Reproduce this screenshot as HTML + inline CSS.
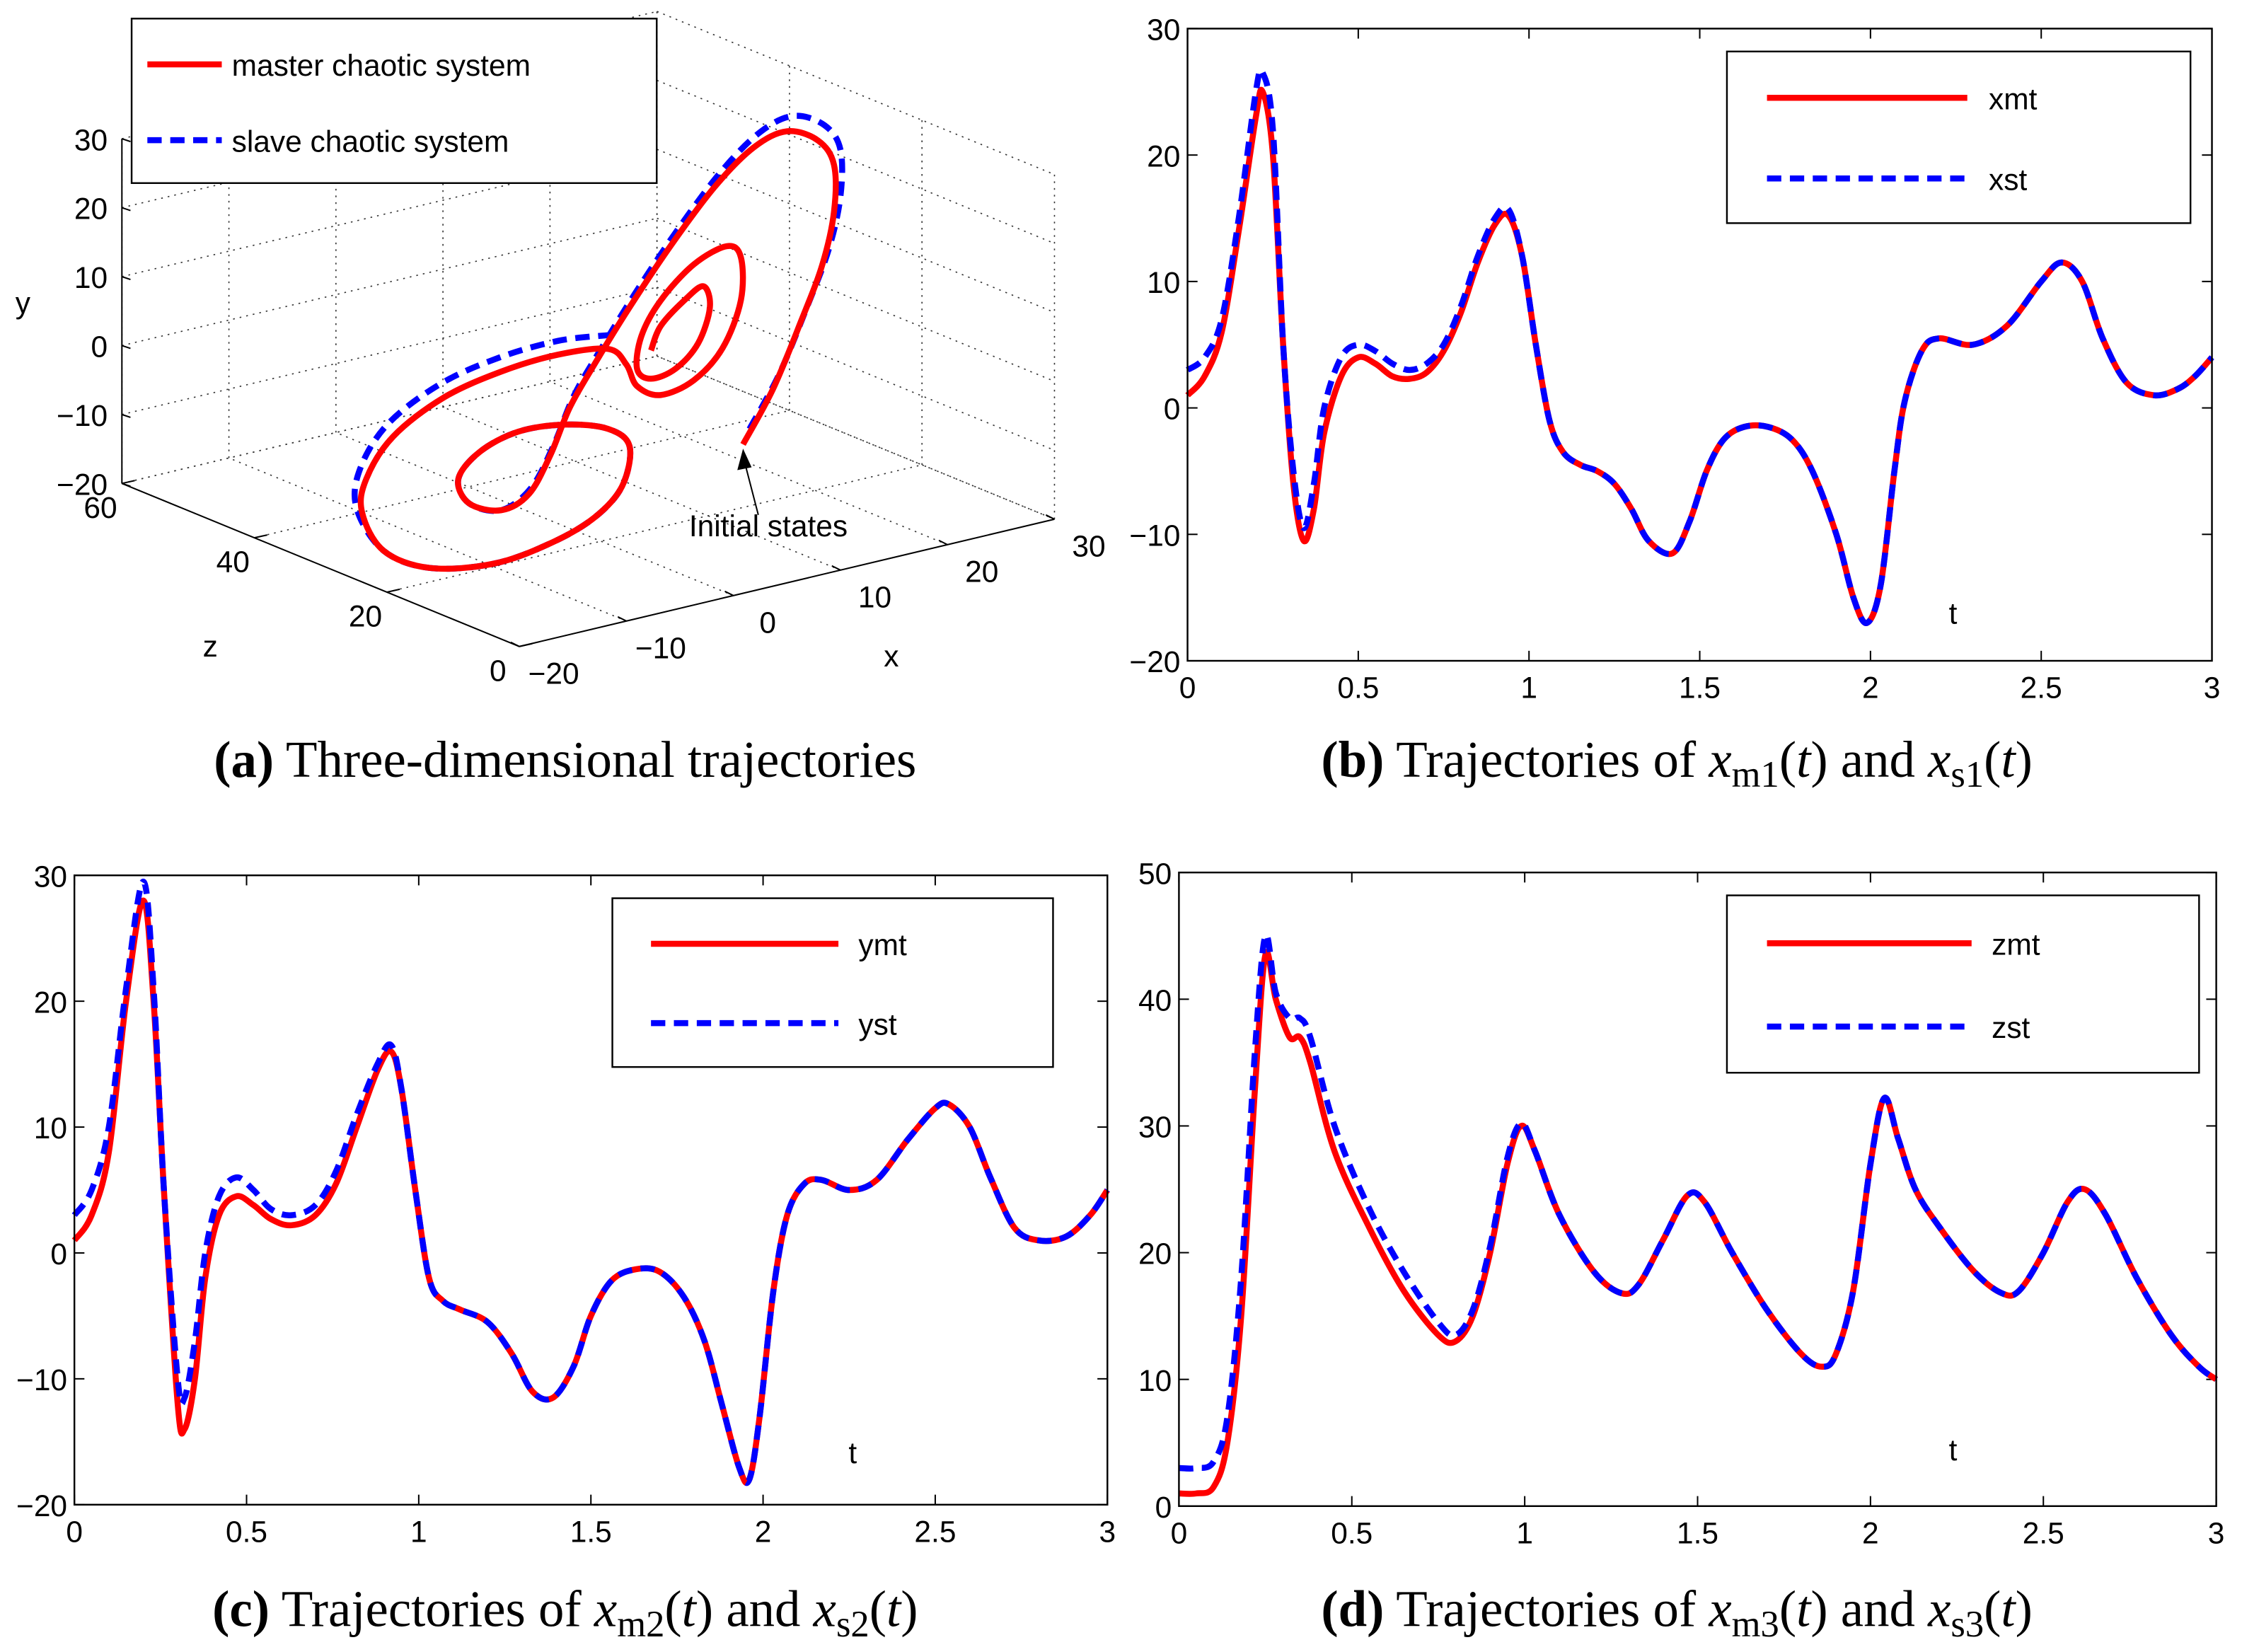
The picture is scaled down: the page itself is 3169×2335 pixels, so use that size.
<!DOCTYPE html>
<html><head><meta charset="utf-8"><style>
html,body{margin:0;padding:0;background:#fff;}
svg{display:block;}
.tk{font-family:"Liberation Sans Narrow","Liberation Sans",sans-serif;font-size:21px;fill:#000;}
.cap{font-family:"Liberation Serif",serif;font-size:36px;fill:#000;}
</style></head><body>
<svg id="fig" xmlns="http://www.w3.org/2000/svg" width="3169" height="2335" viewBox="0 0 1567 1155" preserveAspectRatio="none">
<rect width="1567" height="1155" fill="#fff"/>
<g id="pa"></g>
<g id="pb"></g>
<g id="pc"></g>
<g id="pd"></g>
<text class="cap" x="395" y="543" text-anchor="middle"><tspan font-weight="bold">(a)</tspan> Three-dimensional trajectories</text>
<text class="cap" x="1172" y="543" text-anchor="middle"><tspan font-weight="bold">(b)</tspan> Trajectories of <tspan font-style="italic">x</tspan><tspan font-size="26" dy="7">m1</tspan><tspan dy="-7">(</tspan><tspan font-style="italic">t</tspan>) and <tspan font-style="italic">x</tspan><tspan font-size="26" dy="7">s1</tspan><tspan dy="-7">(</tspan><tspan font-style="italic">t</tspan>)</text>
<text class="cap" x="395" y="1137" text-anchor="middle"><tspan font-weight="bold">(c)</tspan> Trajectories of <tspan font-style="italic">x</tspan><tspan font-size="26" dy="7">m2</tspan><tspan dy="-7">(</tspan><tspan font-style="italic">t</tspan>) and <tspan font-style="italic">x</tspan><tspan font-size="26" dy="7">s2</tspan><tspan dy="-7">(</tspan><tspan font-style="italic">t</tspan>)</text>
<text class="cap" x="1172" y="1137" text-anchor="middle"><tspan font-weight="bold">(d)</tspan> Trajectories of <tspan font-style="italic">x</tspan><tspan font-size="26" dy="7">m3</tspan><tspan dy="-7">(</tspan><tspan font-style="italic">t</tspan>) and <tspan font-style="italic">x</tspan><tspan font-size="26" dy="7">s3</tspan><tspan dy="-7">(</tspan><tspan font-style="italic">t</tspan>)</text>
</svg>
<script>
// ---------- data ----------
const xTicks = [0,0.5,1,1.5,2,2.5,3];
const xTickLabels = ["0","0.5","1","1.5","2","2.5","3"];
const ticksBC = [-20,-10,0,10,20,30];
const ticksD = [0,10,20,30,40,50];

const tB_m = [0,0.05,0.1,0.15,0.2,0.22,0.25,0.28,0.31,0.34,0.37,0.4,0.45,0.5,0.55,0.6,0.65,0.7,0.75,0.8,0.85,0.9,0.94,0.98,1.02,1.06,1.1,1.15,1.2,1.25,1.3,1.35,1.42,1.47,1.52,1.57,1.63,1.7,1.77,1.83,1.9,1.95,1.99,2.03,2.07,2.1,2.15,2.2,2.3,2.4,2.5,2.56,2.62,2.68,2.75,2.83,2.9,2.95,3];
const xm = [1,2.5,6,14,23,25,20,5,-6,-10.5,-8,-2,2.5,4,3.5,2.5,2.3,2.8,4.5,7.5,11.5,14.5,15.2,12,5,-1,-3.5,-4.5,-5,-6,-8,-10.5,-11.5,-9,-5,-2.5,-1.5,-1.5,-2.5,-5,-10,-15,-17,-14,-5,0.5,4.5,5.5,5,6.5,10,11.5,10,5.5,2,1,1.5,2.5,4];
const xs = [3,4,7,15,25,26.5,22,5,-5,-9.5,-6,0,4,5,4.5,3.5,3,3.5,5,8,12,15,15.7,12,5,-1,-3.5,-4.5,-5,-6,-8,-10.5,-11.5,-9,-5,-2.5,-1.5,-1.5,-2.5,-5,-10,-15,-17,-14,-5,0.5,4.5,5.5,5,6.5,10,11.5,10,5.5,2,1,1.5,2.5,4];

const tC = [0,0.05,0.1,0.15,0.2,0.23,0.26,0.3,0.32,0.35,0.38,0.42,0.47,0.52,0.57,0.63,0.7,0.76,0.82,0.88,0.92,0.95,0.99,1.03,1.07,1.12,1.2,1.27,1.33,1.39,1.45,1.5,1.56,1.63,1.7,1.77,1.83,1.88,1.93,1.96,1.99,2.03,2.07,2.12,2.17,2.25,2.33,2.42,2.5,2.54,2.6,2.66,2.73,2.8,2.88,2.95,3];
const ym = [1,3,8,20,28,20,5,-12,-14,-10,-2,3,4.5,3.8,2.7,2.2,3,5.5,10,14.5,16,13,5,-2,-3.8,-4.5,-5.5,-8,-11,-11.5,-9,-5,-2.2,-1.3,-1.5,-3.5,-7,-12,-17,-18,-13,-3,3,5.5,5.8,5,5.8,9,11.5,11.8,10,6,2,1,1.3,3,5];
const ys = [3,5,10,21,29.5,21,5,-10,-11.5,-7,0,4.5,6,5,3.5,3,3.8,6.5,11,15,16.5,13,5,-2,-3.8,-4.5,-5.5,-8,-11,-11.5,-9,-5,-2.2,-1.3,-1.5,-3.5,-7,-12,-17,-18,-13,-3,3,5.5,5.8,5,5.8,9,11.5,11.8,10,6,2,1,1.3,3,5];

const tD = [0,0.05,0.1,0.14,0.18,0.22,0.25,0.28,0.32,0.35,0.38,0.45,0.55,0.65,0.75,0.8,0.85,0.9,0.95,0.99,1.03,1.1,1.2,1.28,1.33,1.4,1.47,1.52,1.6,1.7,1.8,1.86,1.9,1.95,2.0,2.04,2.08,2.13,2.2,2.3,2.38,2.43,2.5,2.57,2.62,2.68,2.77,2.87,2.95,3];
const zm = [1,1,1.5,5,15,33,43.5,40,37,37,35,28,22,17,13.5,13,15,20,27,30,28,23,18.5,16.8,17.5,21,24.5,24,20,15.5,12,11,12,17,27,32.2,29,25,22,18.5,16.8,17,20,24,25,23,18,13.5,11,10];
const zs = [3,3,3.5,7,18,36,45,40.5,38.5,38.5,37,30,23.5,18.5,14.5,13.5,15.5,20.5,27.5,30.2,28,23,18.5,16.8,17.5,21,24.5,24,20,15.5,12,11,12,17,27,32.2,29,25,22,18.5,16.8,17,20,24,25,23,18,13.5,11,10];

// 3D trajectory (x, y, z) samples
const trajMx = [0.9,3.7,6.3,8.3,9.4,9.4,7.9,5.0,1.9,-1.7,-5.7,-9.7,-13.0,-15.3,-17.1,-19.1,-21.7,-24.7,-25.7,-23.7,-20.1,-15.7,-11.7,-9.7,-10.4,-13.0,-17.1,-22.4,-28.4,-32.7,-34.7,-34.3,-31.8,-27.1,-21.7,-16.4,-11.7,-10.0,-9.0,-6.8,-3.7,-1.0,0.7,0.7,-0.6,-3.7,-6.8,-8.6,-9.0,-7.7,-5.4,-3.3,-2.2,-2.8,-4.6,-6.8,-7.7];
const trajMy = [1.6,8.6,17.4,24.9,32.2,39.0,43.1,45.5,44.3,40.0,33.2,25.4,18.3,12.9,6.7,1.8,0.4,2.5,6.4,9.6,11.2,10.6,8.5,5.2,-0.3,-3.9,-6.1,-7.1,-5.5,-1.4,4.9,9.6,14.8,18.7,20.5,21.0,20.1,17.2,13.7,11.6,12.6,16.3,22.6,28.8,30.9,29.4,25.3,20.8,16.2,14.3,14.9,17.8,22.6,25.9,24.5,21.6,18.4];
const trajSx = [1.5,4.3,6.9,8.9,10.0,10.0,8.5,5.6,2.5,-1.1,-5.1,-9.1,-12.4,-14.9,-16.8,-18.9,-21.7,-24.7,-25.7,-23.7,-20.1,-15.7,-11.7,-9.7,-10.4,-13.0,-17.1,-22.4,-28.4,-32.7,-35.2,-34.9,-32.3,-27.4,-21.9,-16.4,-11.7];
const trajSy = [3.6,10.6,19.4,26.9,34.2,41.0,45.1,47.5,46.3,42.0,35.2,27.4,20.3,14.5,8.0,2.6,0.4,2.5,6.4,9.6,11.2,10.6,8.5,5.2,-0.3,-3.9,-6.1,-7.1,-5.5,-1.4,5.6,11.2,16.8,20.8,22.6,23.0,22.1];
const trajZ = 0;

// ---------- helpers ----------
const NS = "http://www.w3.org/2000/svg";
function mk(parent, tag, attrs, text){
  const e = document.createElementNS(NS, tag);
  for (const k in attrs) e.setAttribute(k, attrs[k]);
  if (text !== undefined) e.textContent = text;
  parent.appendChild(e);
  return e;
}
function smoothPath(pts){
  let d = "M" + pts[0][0].toFixed(2) + "," + pts[0][1].toFixed(2);
  for (let i = 0; i < pts.length - 1; i++){
    const p0 = pts[Math.max(0,i-1)], p1 = pts[i], p2 = pts[i+1], p3 = pts[Math.min(pts.length-1,i+2)];
    const c1 = [p1[0]+(p2[0]-p0[0])/6, p1[1]+(p2[1]-p0[1])/6];
    const c2 = [p2[0]-(p3[0]-p1[0])/6, p2[1]-(p3[1]-p1[1])/6];
    d += " C" + c1[0].toFixed(2) + "," + c1[1].toFixed(2) + " " + c2[0].toFixed(2) + "," + c2[1].toFixed(2) + " " + p2[0].toFixed(2) + "," + p2[1].toFixed(2);
  }
  return d;
}

// ---------- 2D panels ----------
function panel(gid, box, yTicks, tm, vm, ts, vs, leg, tPos){
  const g = document.getElementById(gid);
  const [L, T, R, B] = box;
  const y0 = yTicks[0], y1 = yTicks[yTicks.length-1];
  const sx = v => L + (v - 0) / 3 * (R - L);
  const sy = v => B - (v - y0) / (y1 - y0) * (B - T);
  xTicks.forEach((v, i) => {
    const x = sx(v);
    const t1 = mk(g, "line", {x1:x, y1:B, x2:x, y2:B-7, stroke:"#000", "stroke-width":1});
    
    
    const t2 = mk(g, "line", {x1:x, y1:T, x2:x, y2:T+7, stroke:"#000", "stroke-width":1});
    
    
    const lb = mk(g, "text", {x:x, y:B+26, "text-anchor":"middle", class:"tk"}, xTickLabels[i]);
    
    
  });
  yTicks.forEach(v => {
    const y = sy(v);
    const t1 = mk(g, "line", {x1:L, y1:y, x2:L+7, y2:y, stroke:"#000", "stroke-width":1});
    
    
    const t2 = mk(g, "line", {x1:R, y1:y, x2:R-7, y2:y, stroke:"#000", "stroke-width":1});
    
    
    const lb = mk(g, "text", {x:L-5, y:y+8, "text-anchor":"end", class:"tk"}, (v < 0 ? "\u2212" + (-v) : String(v)));
    
    
  });
  const tl = mk(g, "text", {x:tPos[0], y:tPos[1], "text-anchor":"middle", class:"tk", "font-size":"12"}, "t");
  
  
  const pm = smoothPath(tm.map((t, i) => [sx(t), sy(vm[i])]));
  const lm = mk(g, "path", {d:pm, fill:"none", stroke:"#ff0000", "stroke-width":4.2, "stroke-linejoin":"round"});
  
  
  const ps = smoothPath(ts.map((t, i) => [sx(t), sy(vs[i])]));
  const ls = mk(g, "path", {d:ps, fill:"none", stroke:"#0000ff", "stroke-width":4.2, "stroke-dasharray":"10,6"});
  
  
  const fr = mk(g, "rect", {x:L, y:T, width:R-L, height:B-T, fill:"none", stroke:"#000", "stroke-width":1.2});
  
  
  const [lx1, ly1, lx2, ly2, linex1, linex2, textx, names] = leg;
  const lg = mk(g, "g", {});
  
  
  mk(lg, "rect", {x:lx1, y:ly1, width:lx2-lx1, height:ly2-ly1, fill:"#fff", stroke:"#000", "stroke-width":1.2});
  const r1 = ly1 + (ly2-ly1)*0.27, r2 = ly1 + (ly2-ly1)*0.74;
  const e1 = mk(lg, "line", {x1:linex1, y1:r1, x2:linex2, y2:r1, stroke:"#ff0000", "stroke-width":4.2});
  
  
  mk(lg, "text", {x:textx, y:r1+8, class:"tk"}, names[0]);
  const e2 = mk(lg, "line", {x1:linex1, y1:r2, x2:linex2, y2:r2, stroke:"#0000ff", "stroke-width":4.2, "stroke-dasharray":"10,6"});
  
  
  mk(lg, "text", {x:textx, y:r2+8, class:"tk"}, names[1]);
}
panel("pb", [830,20,1546,462], ticksBC, tB_m, xm, tB_m, xs, [1207,36,1531,156,1235,1375,1390,["xmt","xst"]], [1365,436]);
panel("pc", [52,612,774,1052], ticksBC, tC, ym, tC, ys, [428,628,736,746,455,586,600,["ymt","yst"]], [596,1023]);
panel("pd", [824,610,1549,1053], ticksD, tD, zm, tD, zs, [1207,626,1537,750,1235,1378,1392,["zmt","zst"]], [1365,1021]);

// ---------- 3D panel ----------
(function(){
  const g = document.getElementById("pa");
  const P = (x, y, z) => [363 + 7.48*(x+20) - 4.63*z, 452 - 1.78*(x+20) - 1.9*z - 4.82*(y+20)];
  const dot = {stroke:"#333", "stroke-width":0.8, "stroke-dasharray":"1.2,3.5"};
  const X3 = [-20,-10,0,10,20,30], Y3 = [-20,-10,0,10,20,30], Z3 = [0,20,40,60];
  const grid = mk(g, "g", {});
  
  
  function ln(a, b, attrs){ return mk(grid, "line", Object.assign({x1:a[0], y1:a[1], x2:b[0], y2:b[1]}, attrs)); }
  X3.forEach(x => { ln(P(x,-20,0), P(x,-20,60), dot); ln(P(x,-20,60), P(x,30,60), dot); });
  Z3.forEach(z => { ln(P(-20,-20,z), P(30,-20,z), dot); ln(P(30,-20,z), P(30,30,z), dot); });
  Y3.forEach(y => { ln(P(-20,y,60), P(30,y,60), dot); ln(P(30,y,60), P(30,y,0), dot); });
  const ax = {stroke:"#000", "stroke-width":1};
  ln(P(-20,-20,60), P(-20,30,60), ax);
  ln(P(-20,-20,60), P(-20,-20,0), ax);
  ln(P(-20,-20,0), P(30,-20,0), ax);
  Y3.forEach(y => { const p = P(-20,y,60);
    ln(p, [p[0]+6, p[1]+2], ax);
    const t = mk(g, "text", {x:p[0]-10, y:p[1]+8, "text-anchor":"end", class:"tk"}, y < 0 ? "\u2212"+(-y) : String(y));
    
    
  });
  Z3.forEach(z => { const p = P(-20,-20,z);
    ln(p, [p[0]+9, p[1]-2], ax);
    const t = mk(g, "text", {x:p[0]-15, y:p[1]+24, "text-anchor":"middle", class:"tk"}, String(z));
    
    
  });
  X3.forEach(x => { const p = P(x,-20,0);
    ln(p, [p[0]-6, p[1]-3], ax);
    const t = mk(g, "text", {x:p[0]+24, y:p[1]+26, "text-anchor":"middle", class:"tk"}, x < 0 ? "\u2212"+(-x) : String(x));
    
    
  });
  const ly = mk(g, "text", {x:16, y:219, "text-anchor":"middle", class:"tk"}, "y");
   
  const lz = mk(g, "text", {x:147, y:459, "text-anchor":"middle", class:"tk"}, "z");
   
  const lx = mk(g, "text", {x:623, y:466, "text-anchor":"middle", class:"tk"}, "x");
   
  // trajectories: slave underneath, master on top
  const blue = mk(g, "path", {d:smoothPath(trajSx.map((x,i)=>P(x,trajSy[i],trajZ))), fill:"none", stroke:"#0000ff", "stroke-width":4.2, "stroke-dasharray":"10,6"});
  
  
  const red = mk(g, "path", {d:smoothPath(trajMx.map((x,i)=>P(x,trajMy[i],trajZ))), fill:"none", stroke:"#ff0000", "stroke-width":4.2, "stroke-linejoin":"round"});
  
  
  const s0 = P(trajMx[0], trajMy[0], trajZ);
  const an = mk(g, "g", {});
  
  
  mk(an, "line", {x1:530, y1:360, x2:s0[0]+1, y2:s0[1]+12, stroke:"#000", "stroke-width":1});
  mk(an, "polygon", {points:(s0[0]+0)+","+(s0[1]+3)+" "+(s0[0]-4)+","+(s0[1]+18)+" "+(s0[0]+6)+","+(s0[1]+16), fill:"#000"});
  mk(an, "text", {x:537, y:375, "text-anchor":"middle", class:"tk", "font-size":"13"}, "Initial states");
  const lg = mk(g, "g", {});
  
  
  mk(lg, "rect", {x:92, y:13, width:367, height:115, fill:"#fff", stroke:"#000", "stroke-width":1.2});
  const e1 = mk(lg, "line", {x1:103, y1:45, x2:155, y2:45, stroke:"#ff0000", "stroke-width":4.2});
  
  
  mk(lg, "text", {x:162, y:53, class:"tk", "font-size":"23.5"}, "master chaotic system");
  const e2 = mk(lg, "line", {x1:103, y1:98, x2:155, y2:98, stroke:"#0000ff", "stroke-width":4.2, "stroke-dasharray":"10,6"});
  
  
  mk(lg, "text", {x:162, y:106, class:"tk", "font-size":"23.5"}, "slave chaotic system");
})();
</script>
</body></html>
